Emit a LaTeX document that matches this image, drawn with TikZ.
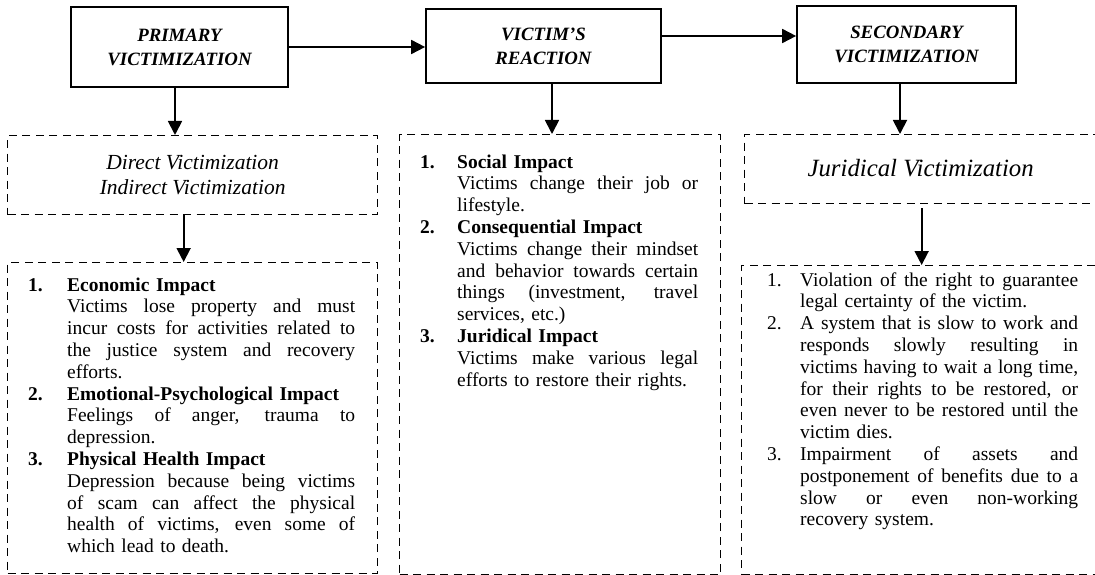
\documentclass[tikz,border=0pt]{standalone}
\usepackage{fontspec}
\setmainfont{Liberation Serif}
\usepackage{tikz}
\usetikzlibrary{positioning,arrows.meta}

\newlength{\nmbw}
\newlength{\lstw}
\newcommand{\titlefont}{\fontsize{18.8}{24}\selectfont\bfseries\itshape}
\newcommand{\vicfont}{\fontsize{21.5}{25}\selectfont\itshape}
\newcommand{\jurfont}{\fontsize{24.8}{28}\selectfont\itshape}
\newcommand{\listfont}{\fontsize{19.5}{21.8}\selectfont}
\newcommand{\itemno}[1]{\makebox[\nmbw][l]{#1}}
\newcommand{\nline}[2]{\itemno{#1}\makebox[\lstw][s]{\spaceskip=0pt\relax #2}}
\newcommand{\jline}[1]{\hspace*{\nmbw}\makebox[\lstw][s]{\spaceskip=0pt\relax #1}}
\newcommand{\pline}[1]{\hspace*{\nmbw}#1}

\begin{document}
\begin{tikzpicture}[x=1pt, y=-1pt,
  titlebox/.style={draw, line width=1.7pt, align=center, inner sep=0pt, font=\titlefont},
  dashbox/.style={draw, line width=1.3pt, dash pattern=on 8pt off 5.5pt, inner sep=0pt, anchor=north west, align=center},
  listtext/.style={font=\listfont, text width=340pt, align=left, inner sep=0pt, anchor=base west},
  listcol/.style 2 args={listtext, execute at begin node={\setlength{\nmbw}{#1}\setlength{\lstw}{#2}\noindent}},
  flow/.style={-{Triangle[length=14pt,width=14pt]}, line width=1.8pt}]
\clip (0,0) rectangle (1095,575);

\node[titlebox, minimum width=217pt, minimum height=80pt] (prim) at (179.5,47) {PRIMARY\\VICTIMIZATION};
\node[titlebox, minimum width=235pt, minimum height=74pt] (react) at (543.5,46) {VICTIM’S\\REACTION};
\node[titlebox, minimum width=219pt, minimum height=77pt] (secd) at (906.5,44.5) {SECONDARY\\VICTIMIZATION};

\node[dashbox, minimum width=370pt, minimum height=79pt, font=\vicfont] (dirVic) at (7,135) {Direct Victimization\\Indirect Victimization};
\node[dashbox, minimum width=370pt, minimum height=311pt] (impPrim) at (7,262) {};
\node[dashbox, minimum width=321pt, minimum height=440pt] (impReact) at (399,134) {};
\node[dashbox, minimum width=380pt, minimum height=69pt, font=\jurfont] (jurVic) at (744,134) {\raisebox{2pt}{\hspace*{-14pt}Juridical Victimization\hspace*{14pt}}};
\node[dashbox, minimum width=380pt, minimum height=309pt] (impSec) at (741,265) {};

\draw[flow] (prim.east) -- (prim.east -| react.west);
\draw[flow] ([yshift=10pt]react.east) -- ([yshift=10pt]react.east -| secd.west);
\draw[flow] ([xshift=-4.5pt]prim.south) -- ([xshift=-4.5pt]prim.south |- dirVic.north);
\draw[flow] ([xshift=8.5pt]react.south) -- ([xshift=8.5pt]react.south |- impReact.north);
\draw[flow] ([xshift=-6.5pt]secd.south) -- ([xshift=-6.5pt]secd.south |- jurVic.north);
\draw[flow] ([xshift=-9pt]dirVic.south) -- ([xshift=-9pt]dirVic.south |- impPrim.north);
\draw[flow] ([xshift=-13pt,yshift=-4pt]jurVic.south) -- ([xshift=-13pt]jurVic.south |- impSec.north);

\node[listcol={39pt}{288pt}] (impPrimTxt) at (28,291) {%
\itemno{\textbf{1.}}\textbf{Economic Impact}\\
\jline{Victims lose property and must}\\
\jline{incur costs for activities related to}\\
\jline{the justice system and recovery}\\
\pline{efforts.}\\
\itemno{\textbf{2.}}\textbf{Emotional-Psychological Impact}\\
\jline{Feelings of anger, trauma to}\\
\pline{depression.}\\
\itemno{\textbf{3.}}\textbf{Physical Health Impact}\\
\jline{Depression because being victims}\\
\jline{of scam can affect the physical}\\
\jline{health of victims, even some of}\\
\pline{which lead to death.}};

\node[listcol={37pt}{241pt}] (impReactTxt) at (420,168) {%
\itemno{\textbf{1.}}\textbf{Social Impact}\\
\jline{Victims change their job or}\\
\pline{lifestyle.}\\
\itemno{\textbf{2.}}\textbf{Consequential Impact}\\
\jline{Victims change their mindset}\\
\jline{and behavior towards certain}\\
\jline{things (investment, travel}\\
\pline{services, etc.)}\\
\itemno{\textbf{3.}}\textbf{Juridical Impact}\\
\jline{Victims make various legal}\\
\pline{efforts to restore their rights.}};

\node[listcol={33pt}{278pt}] (impSecTxt) at (767,286) {%
\nline{1.}{Violation of the right to guarantee}\\
\pline{legal certainty of the victim.}\\
\nline{2.}{A system that is slow to work and}\\
\jline{responds slowly resulting in}\\
\jline{victims having to wait a long time,}\\
\jline{for their rights to be restored, or}\\
\jline{even never to be restored until the}\\
\pline{victim dies.}\\
\nline{3.}{Impairment of assets and}\\
\jline{postponement of benefits due to a}\\
\jline{slow or even non-working}\\
\pline{recovery system.}};
\end{tikzpicture}
\end{document}
